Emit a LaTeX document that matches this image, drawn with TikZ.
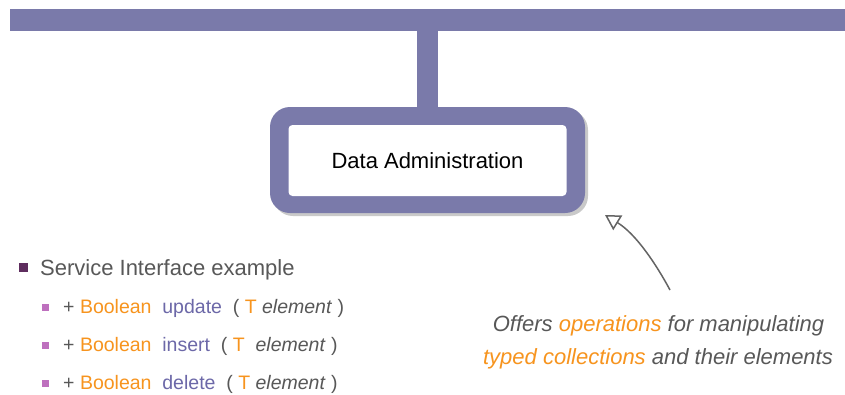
\documentclass[tikz,border=0pt]{standalone}
\usepackage{fontspec}
\setmainfont{Liberation Sans}
\usetikzlibrary{arrows.meta,shadows}
\definecolor{barblue}{RGB}{122,122,170}
\definecolor{accent}{RGB}{247,148,30}
\definecolor{txtgray}{RGB}{88,88,88}
\definecolor{methpurple}{RGB}{108,104,168}
\definecolor{bulletdark}{RGB}{94,45,94}
\definecolor{bulletpink}{RGB}{190,112,190}
\definecolor{arrgray}{RGB}{100,100,100}
\tikzset{
  barnode/.style={fill=barblue, draw=none, minimum width=835pt, minimum height=22pt, inner sep=0pt},
  outerbox/.style={fill=barblue, draw=none, rounded corners=20pt, minimum width=315pt, minimum height=106pt, inner sep=0pt,
    drop shadow={shadow xshift=3pt, shadow yshift=-3pt, opacity=0.35, fill=black!60}},
  innerbox/.style={fill=white, draw=none, rounded corners=4pt, minimum width=278pt, minimum height=71pt, inner sep=0pt,
    font=\fontsize{22}{26}\selectfont, text=black},
  stem/.style={draw=barblue, line width=21pt},
  bigsq/.style={fill=bulletdark, draw=none, minimum size=8.5pt, inner sep=0pt},
  smallsq/.style={fill=bulletpink, draw=none, minimum size=7.5pt, inner sep=0pt},
  maintext/.style={anchor=base west, inner sep=0pt, font=\fontsize{22}{26}\selectfont, text=txtgray},
  subtext/.style={anchor=base west, inner sep=0pt, font=\fontsize{19.5}{24}\selectfont, text=txtgray},
  notetext/.style={anchor=base, inner sep=0pt, font=\fontsize{22}{26}\selectfont\itshape, text=txtgray},
  pointer/.style={draw=arrgray, line width=1.5pt, -{Triangle[open,length=15pt,width=17pt,line width=1.5pt]}}
}
\newcommand{\acc}[1]{\textcolor{accent}{#1}}
\newcommand{\meth}[1]{\textcolor{methpurple}{#1}}
\begin{document}
\begin{tikzpicture}[x=1pt,y=-1pt]
\useasboundingbox (0,0) rectangle (845,394);
\fill[white] (0,0) rectangle (845,394);
% bus bar and component
\node[barnode] (bar) at (427.5,20) {};
\node[outerbox] (box) at (427.5,160) {};
\draw[stem] (bar.south) -- (box.north);
\node[innerbox] (inner) at (427.5,160.5) {Data Administration};
% bullets
\node[bigsq] (b0) at (23.5,267.5) {};
\node[maintext] (t0) at (40,275) {Service Interface example};
\node[smallsq] (b1) at (45.5,307.5) {};
\node[subtext] (t1) at (63,313.5) {+ \acc{Boolean}~~\meth{update}~~( \acc{T} \textit{element} )};
\node[smallsq] (b2) at (45.5,345.5) {};
\node[subtext] (t2) at (63,351.5) {+ \acc{Boolean}~~\meth{insert}~~( \acc{T}~~\textit{element} )};
\node[smallsq] (b3) at (45.5,383.5) {};
\node[subtext] (t3) at (63,389.5) {+ \acc{Boolean}~~\meth{delete}~~( \acc{T} \textit{element} )};
% note
\node[notetext] (n1) at (658.5,331) {Offers \acc{operations} for manipulating};
\node[notetext] (n2) at (658,364) {\acc{typed collections} and their elements};
\coordinate (arrstart) at (670,290);
\coordinate (arrtip) at (605,215);
\draw[pointer] (arrstart) .. controls (656,264) and (636,234) .. (arrtip);
\end{tikzpicture}
\end{document}
